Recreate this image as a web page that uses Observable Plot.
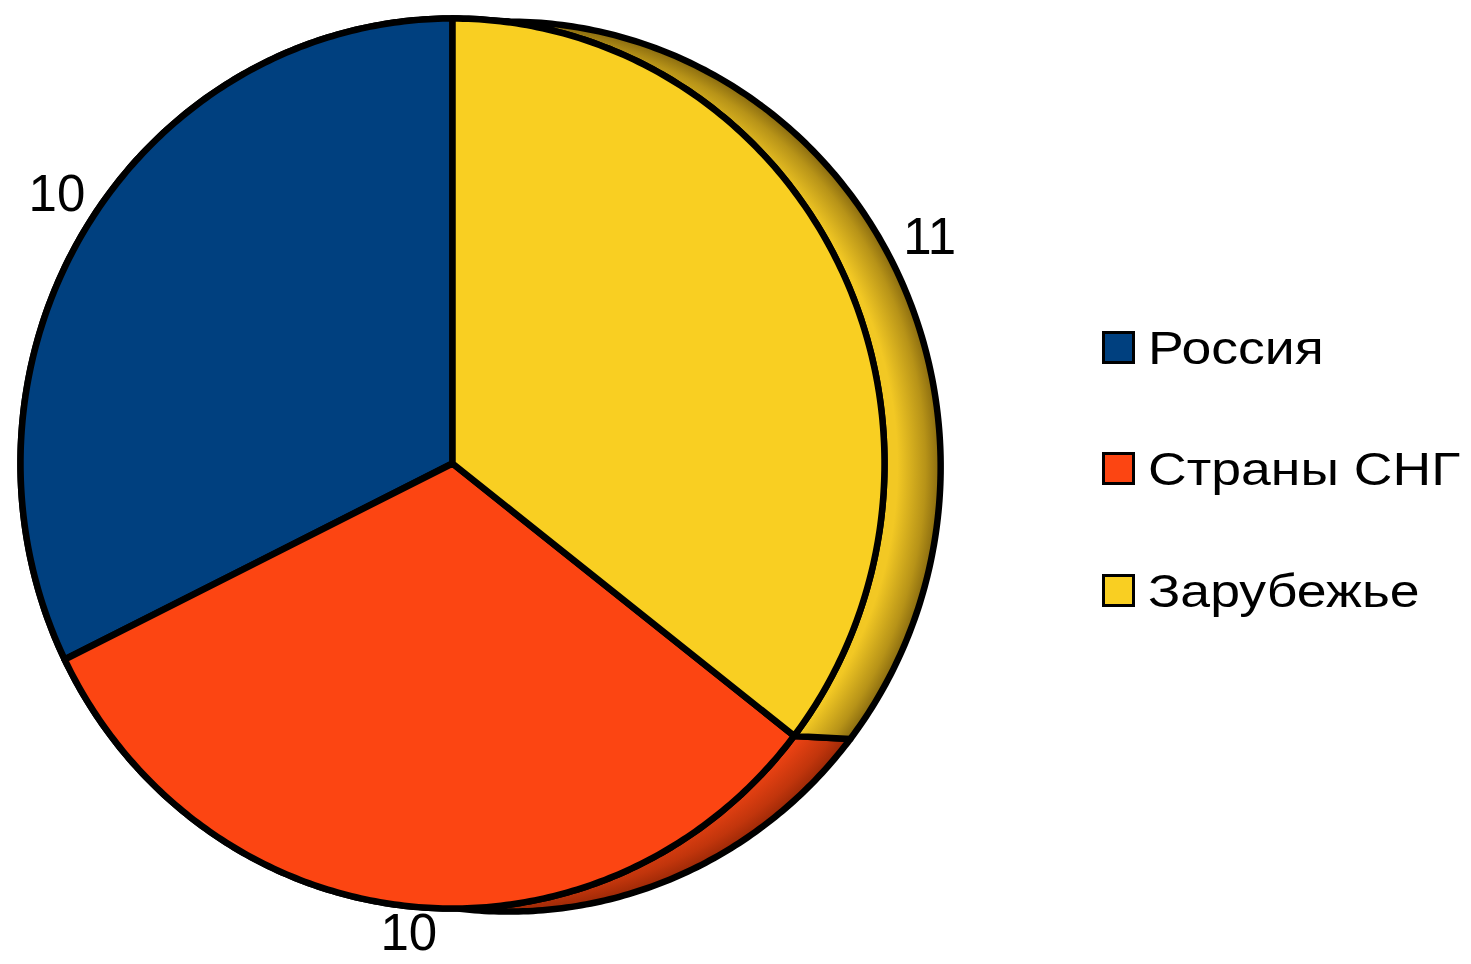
<!DOCTYPE html>
<html><head><meta charset="utf-8">
<script src="https://cdn.jsdelivr.net/npm/d3@7"></script>
<script src="https://cdn.jsdelivr.net/npm/@observablehq/plot@0.6"></script>
<style>
body{margin:0;background:#fff;font-family:"Liberation Sans",Arial,sans-serif;}
#wrap{position:relative;width:1471px;height:964px;overflow:hidden;}
#legend{position:absolute;left:1102px;top:330px;}
.item{display:flex;align-items:center;height:34px;margin-bottom:87.7px;}
.sw{width:27px;height:27px;border:3px solid #000;flex:none;}
.lab{font-size:47px;margin-left:13px;transform-origin:left center;transform:scaleX(1.14);white-space:nowrap;color:#000;}
</style></head><body>
<div id="wrap"><div id="chart"></div><div id="legend"></div></div>
<script>
const categories = ["Россия", "Страны СНГ", "Зарубежье"];
const values = [10, 10, 11];
const colors = ["#00407f", "#fc4512", "#f9cf22"];
const sideLight = ["#1a5aa0", "#f04414", "#f2c824"];
const sideDark = ["#00203f", "#9a2806", "#86680f"];
const depth = {x: 0.13, y: -0.007};

const arcs = d3.pie().sort(null).startAngle(0).endAngle(-2 * Math.PI)(values);

function arcPts(a0, a1, cx, cy, n = 180) {
  const pts = [];
  for (let i = 0; i <= n; i++) {
    const a = a0 + (a1 - a0) * i / n;
    pts.push({x: cx + Math.sin(a), y: cy + Math.cos(a)});
  }
  return pts;
}

const sideMarks = arcs.map((d, i) => Plot.line(
  [...arcPts(d.startAngle, d.endAngle, 0, 0), ...arcPts(d.endAngle, d.startAngle, depth.x, depth.y)],
  {x: "x", y: "y", curve: "linear-closed", fill: `url(#side${i})`, stroke: "#000", strokeWidth: 6.5, strokeLinejoin: "round"}
));
const faceMarks = arcs.map((d, i) => Plot.line(
  [{x: 0, y: 0}, ...arcPts(d.startAngle, d.endAngle, 0, 0)],
  {x: "x", y: "y", curve: "linear-closed", fill: colors[i], stroke: "#000", strokeWidth: 6.5, strokeLinejoin: "round"}
));

const R = 1.09;
const labels = arcs.map((d, i) => {
  const m = (d.startAngle + d.endAngle) / 2;
  return {x: Math.sin(m) * R + depth.x * Math.max(0, Math.sin(m)), y: Math.cos(m) * R, text: String(values[i])};
});

const plot = Plot.plot({
  width: 1050, height: 964,
  marginLeft: 20, marginRight: 166, marginTop: 18, marginBottom: 56,
  style: {background: "transparent", overflow: "visible"},
  x: {domain: [-1, 1], axis: null},
  y: {domain: [-1, 1], axis: null},
  marks: [
    ...sideMarks,
    ...faceMarks,
    Plot.text(labels, {x: "x", y: "y", text: "text", dx: 4, dy: -12, fontSize: 51, fontFamily: "Liberation Sans, Arial, sans-serif", fill: "#000"})
  ]
});

// gradients for the extruded sides, positioned with the plot's own scales
const sx = plot.scale("x"), sy = plot.scale("y");
const cx = sx.apply(depth.x), cy = sy.apply(depth.y);
const rx = sx.apply(1) - sx.apply(0), ry = sy.apply(0) - sy.apply(1);
const ns = "http://www.w3.org/2000/svg";
const defs = document.createElementNS(ns, "defs");
colors.forEach((c, i) => {
  const g = document.createElementNS(ns, "radialGradient");
  g.setAttribute("id", `side${i}`);
  g.setAttribute("gradientUnits", "userSpaceOnUse");
  g.setAttribute("cx", cx); g.setAttribute("cy", cy); g.setAttribute("r", rx);
  g.setAttribute("gradientTransform", `translate(${cx},${cy}) scale(1,${ry / rx}) translate(${-cx},${-cy})`);
  [[0.8, sideLight[i]], [0.9, sideLight[i]], [0.965, d3.interpolateRgb(sideLight[i], sideDark[i])(0.55)], [1, sideDark[i]]].forEach(([o, col]) => {
    const s = document.createElementNS(ns, "stop");
    s.setAttribute("offset", o); s.setAttribute("stop-color", col);
    g.appendChild(s);
  });
  defs.appendChild(g);
});
plot.insertBefore(defs, plot.firstChild);
document.getElementById("chart").appendChild(plot);

const legend = document.getElementById("legend");
categories.forEach((c, i) => {
  const item = document.createElement("div"); item.className = "item";
  const sw = document.createElement("div"); sw.className = "sw"; sw.style.background = colors[i];
  const lab = document.createElement("div"); lab.className = "lab"; lab.textContent = c;
  item.appendChild(sw); item.appendChild(lab); legend.appendChild(item);
});
</script>
</body></html>
